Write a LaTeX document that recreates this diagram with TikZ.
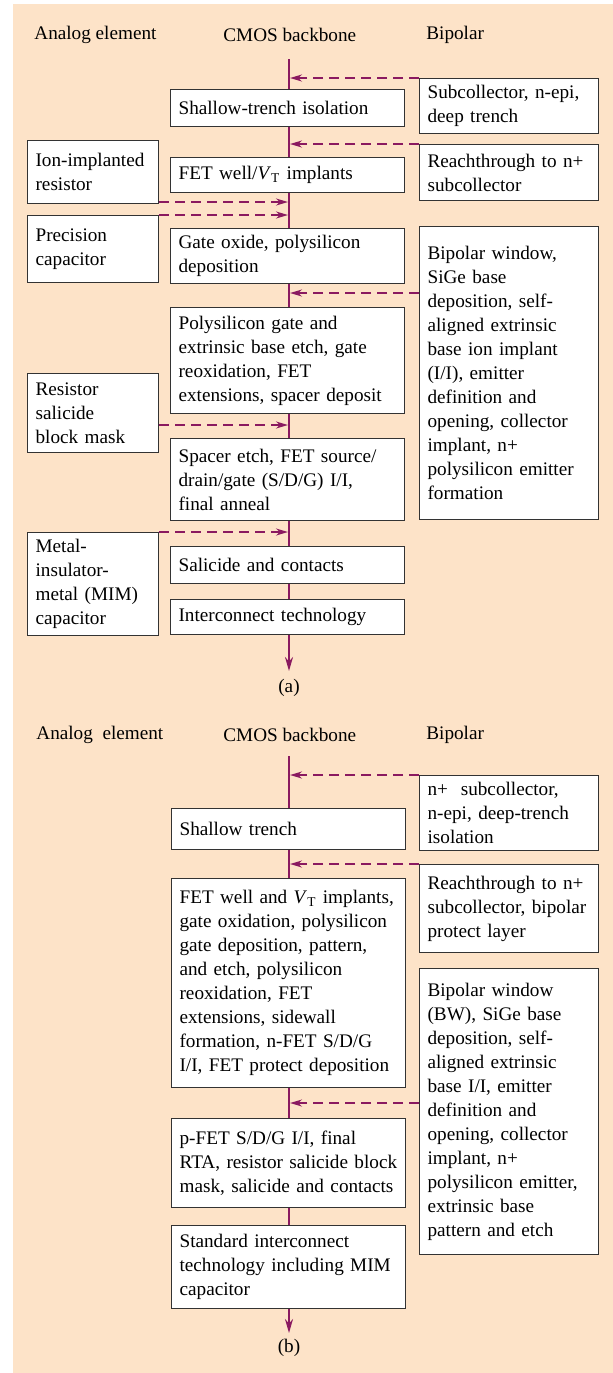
\documentclass[tikz,border=0pt]{standalone}
\usepackage{fontspec}
\setmainfont{Liberation Serif}
\usetikzlibrary{arrows.meta}
\definecolor{peach}{RGB}{253,227,200}
\definecolor{plum}{RGB}{138,26,96}

\begin{document}
\begin{tikzpicture}[x=0.5pt, y=-0.5pt, font=\fontsize{9.6}{12}\selectfont,
    head/.style={anchor=west, inner xsep=0pt},
    box/.style={draw=black!80, line width=0.6pt, fill=white, anchor=north west, align=left, inner xsep=4pt},
    cbox/.style={box, text width=109pt},
    rbox/.style={box, text width=81.5pt},
    lbox/.style={box, text width=57.5pt},
    flow/.style={plum, line width=1pt, -{Stealth[length=7pt, width=4pt]}},
    feed/.style={plum, line width=0.8pt, dash pattern=on 5pt off 3pt, shorten >=0.5pt, -{Stealth[length=6pt, width=3.5pt]}}]
    \useasboundingbox (0, 0) rectangle (613, 1373);
    \fill[peach] (12.5, 4) rectangle (613, 1373);

    \node (ha1) [head] at (34, 35) {Analog element};
    \node (ha2) [head] at (223, 35) {CMOS backbone};
    \node (ha3) [head] at (426, 35) {Bipolar};
    \coordinate (atop) at (289, 59);
    \coordinate (aend) at (289, 671);
    \draw[flow] (atop) -- (aend);
    \node (a1) [cbox, minimum height=18.5pt] at (170, 89) {Shallow-trench isolation};
    \node (a2) [cbox, minimum height=17.5pt] at (170, 157) {FET well/\textit{V}\textsubscript{T} implants};
    \node (a3) [cbox, minimum height=27pt] at (170, 228) {Gate oxide, polysilicon\\deposition};
    \node (a4) [cbox, minimum height=53pt] at (170, 307) {Polysilicon gate and\\extrinsic base etch, gate\\reoxidation, FET\\extensions, spacer deposit};
    \node (a5) [cbox, minimum height=41pt] at (170, 438) {Spacer etch, FET source/\\drain/gate (S/D/G) I/I,\\final anneal};
    \node (a6) [cbox, minimum height=18.5pt] at (170, 546) {Salicide and contacts};
    \node (a7) [cbox, minimum height=17.5pt] at (170, 599) {Interconnect technology};
    \node (ar1) [rbox, minimum height=25.5pt] at (419, 78) {Subcollector, n-epi,\\deep trench};
    \node (ar2) [rbox, minimum height=28pt] at (419, 144) {Reachthrough to n+\\subcollector};
    \node (ar3) [rbox, minimum height=146.5pt] at (419, 226) {Bipolar window,\\SiGe base\\deposition, self-\\aligned extrinsic\\base ion implant\\(I/I), emitter\\definition and\\opening, collector\\implant, n+\\polysilicon emitter\\formation};
    \node (al1) [lbox, minimum height=31.5pt] at (27, 140) {Ion-implanted\\resistor};
    \node (al2) [lbox, minimum height=33.5pt] at (27, 215) {Precision\\capacitor};
    \node (al3) [lbox, minimum height=39.5pt] at (27, 373) {Resistor\\salicide\\block mask};
    \node (al4) [lbox, minimum height=51pt] at (27, 532) {Metal-\\insulator-\\metal (MIM)\\capacitor};
    \coordinate (ja1) at (289, 78);
    \coordinate (ja2) at (289, 144);
    \coordinate (ja3) at (289, 202);
    \coordinate (ja4) at (289, 215);
    \coordinate (ja5) at (289, 293);
    \coordinate (ja6) at (289, 425);
    \coordinate (ja7) at (289, 532);
    \draw[feed] (ar1.north west) -- (ja1);
    \draw[feed] (ar2.north west) -- (ja2);
    \draw[feed] (al1.east |- ja3) -- (ja3);
    \draw[feed] (al2.north east) -- (ja4);
    \draw[feed] (ar3.west |- ja5) -- (ja5);
    \draw[feed] (al3.east |- ja6) -- (ja6);
    \draw[feed] (al4.north east) -- (ja7);
    \node (la) at (289, 688) {(a)};

    \node (hb1) [head] at (36, 735) {Analog~ element};
    \node (hb2) [head] at (223, 735) {CMOS backbone};
    \node (hb3) [head] at (426, 735) {Bipolar};
    \coordinate (btop) at (289, 756);
    \coordinate (bend) at (289, 1333);
    \draw[flow] (btop) -- (bend);
    \node (b1) [cbox, minimum height=20.5pt] at (171, 808) {Shallow trench};
    \node (b2) [cbox, minimum height=104.5pt] at (171, 878) {FET well and \textit{V}\textsubscript{T} implants,\\gate oxidation, polysilicon\\gate deposition, pattern,\\and etch, polysilicon\\reoxidation, FET\\extensions, sidewall\\formation, n-FET S/D/G\\I/I, FET protect deposition};
    \node (b3) [cbox, minimum height=44.5pt] at (171, 1118) {p-FET S/D/G I/I, final\\RTA, resistor salicide block\\mask, salicide and contacts};
    \node (b4) [cbox, minimum height=41.5pt] at (171, 1225) {Standard interconnect\\technology including MIM\\capacitor};
    \node (br1) [rbox, minimum height=37pt] at (419, 775) {n+~ subcollector,\\n-epi, deep-trench\\isolation};
    \node (br2) [rbox, minimum height=44pt] at (419, 864) {Reachthrough to n+\\subcollector, bipolar\\protect layer};
    \node (br3) [rbox, minimum height=143pt] at (419, 968) {Bipolar window\\(BW), SiGe base\\deposition, self-\\aligned extrinsic\\base I/I, emitter\\definition and\\opening, collector\\implant, n+\\polysilicon emitter,\\extrinsic base\\pattern and etch};
    \coordinate (jb1) at (289, 775);
    \coordinate (jb2) at (289, 864);
    \coordinate (jb3) at (289, 1103);
    \draw[feed] (br1.north west) -- (jb1);
    \draw[feed] (br2.north west) -- (jb2);
    \draw[feed] (br3.west |- jb3) -- (jb3);
    \node (lb) at (289, 1348) {(b)};
  \end{tikzpicture}
\end{document}
